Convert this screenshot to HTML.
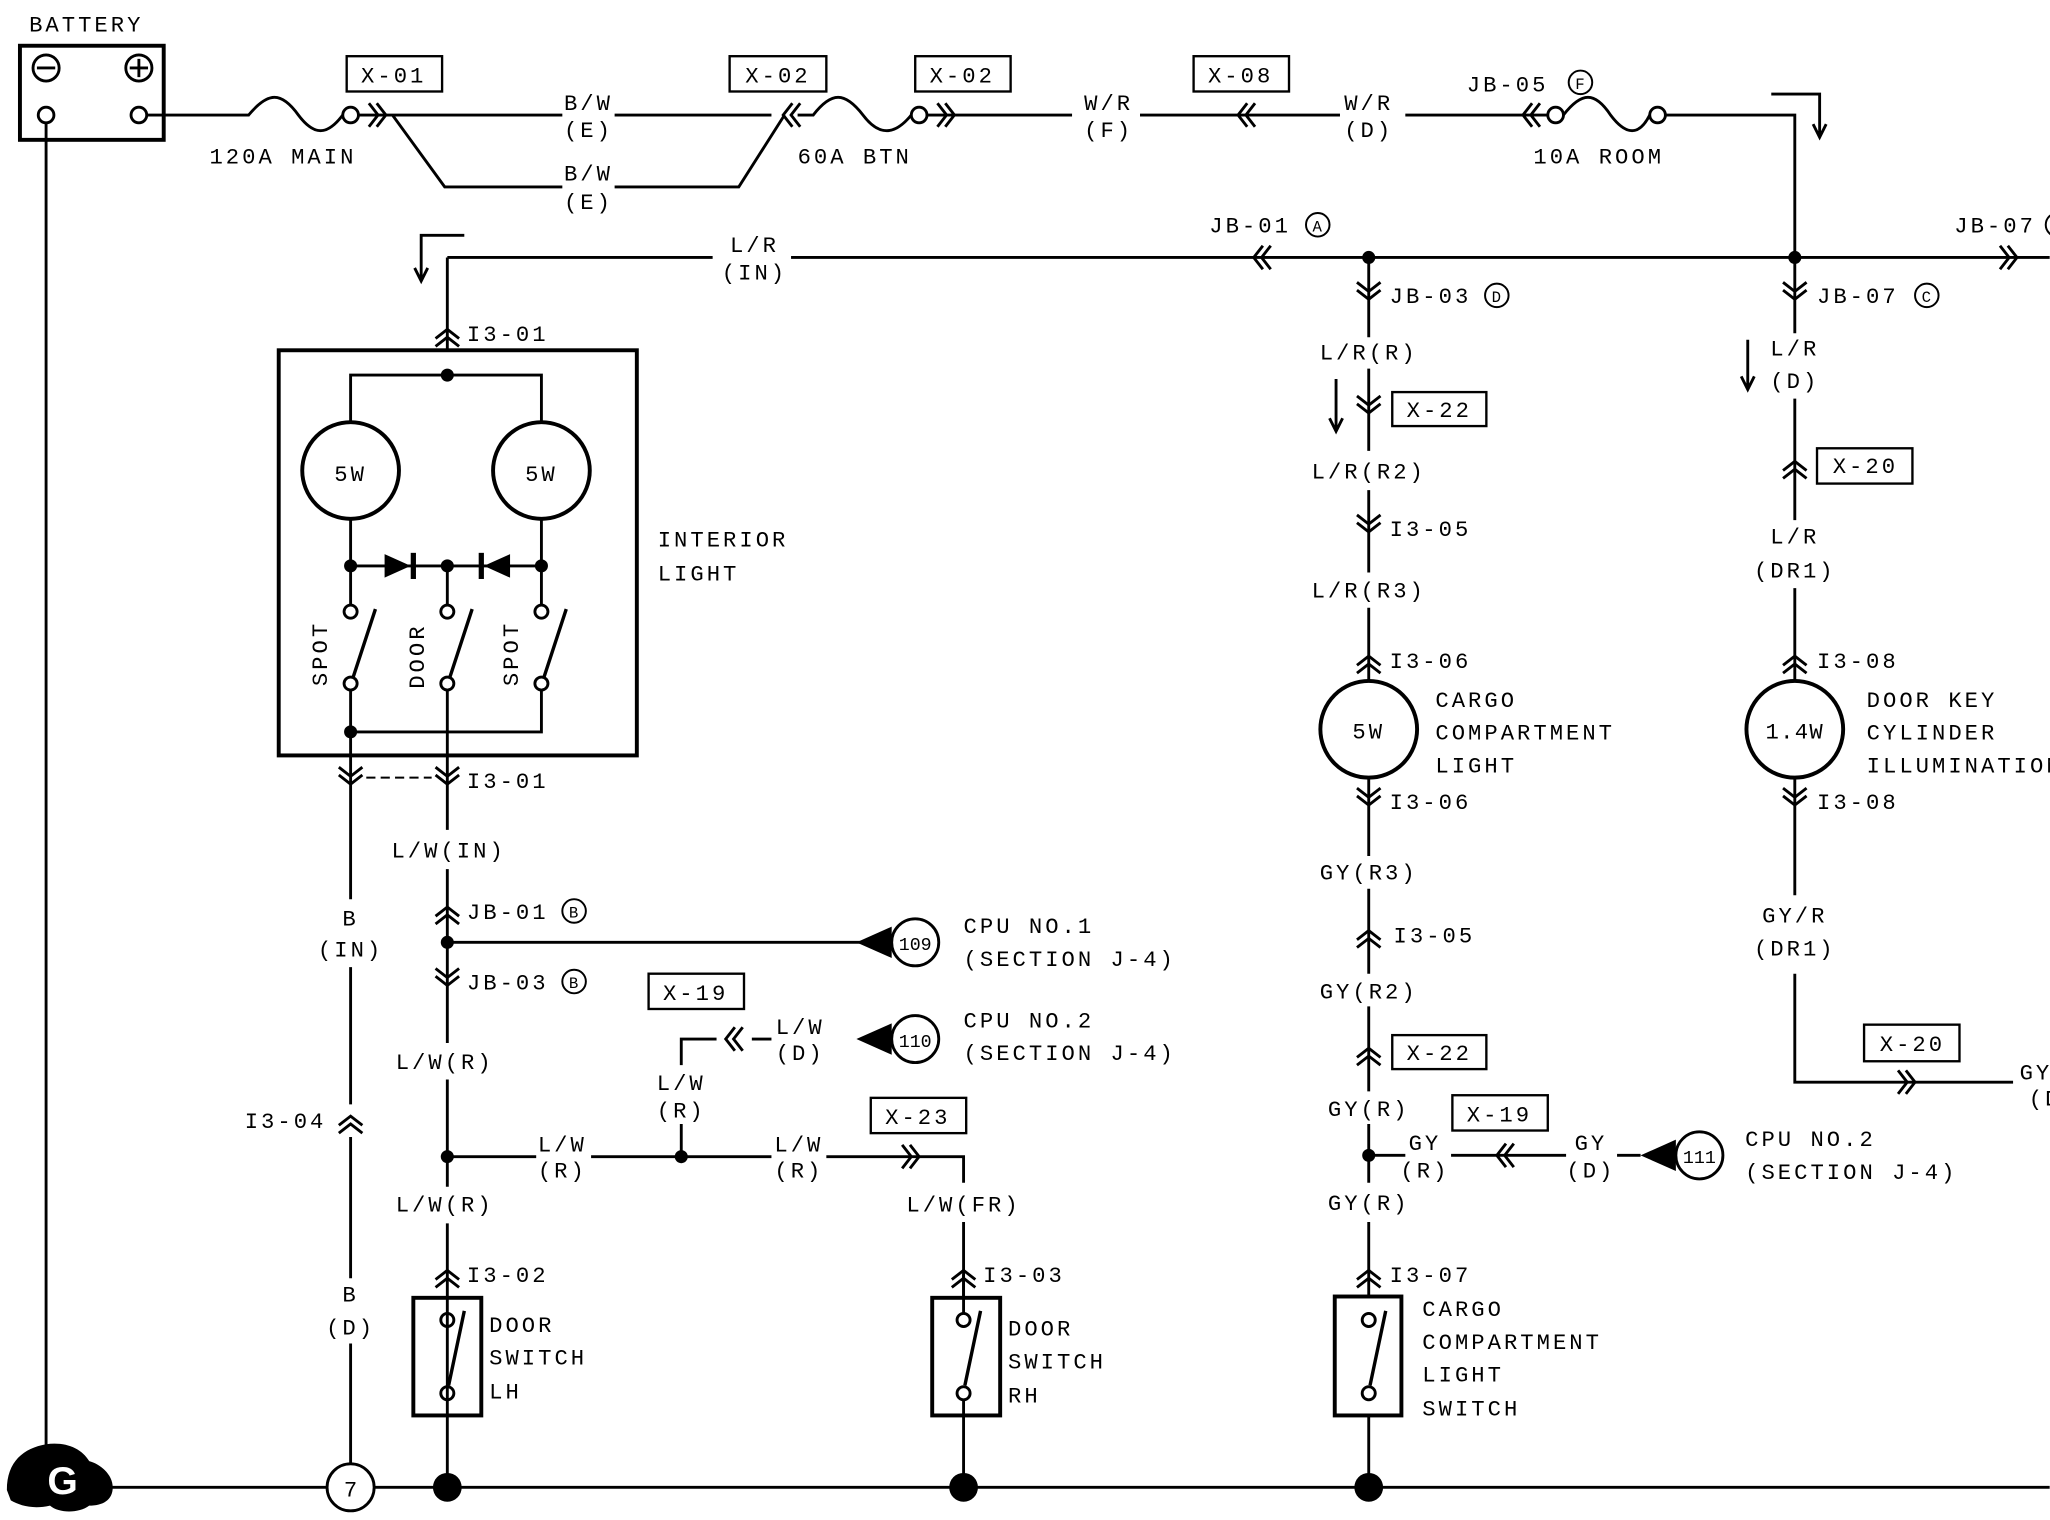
<!DOCTYPE html>
<html><head><meta charset="utf-8"><style>
html,body{margin:0;padding:0;background:#fff;}
svg{display:block;}
text{font-family:"Liberation Mono",monospace;font-size:17px;letter-spacing:2.3px;fill:#000;}
.m{text-anchor:middle;}
</style></head><body>
<svg width="2050" height="1520" viewBox="0 0 1568 1163" xmlns="http://www.w3.org/2000/svg">
<defs>
<path id="cd" d="M-9,-10 L0,-3 L9,-10 M-9,-4 L0,3 L9,-4" fill="none" stroke="#000" stroke-width="2.2"/>
<path id="cu" d="M-9,10 L0,3 L9,10 M-9,4 L0,-3 L9,4" fill="none" stroke="#000" stroke-width="2.2"/>
<path id="cl" d="M10,-9 L3,0 L10,9 M4,-9 L-3,0 L4,9" fill="none" stroke="#000" stroke-width="2.2"/>
<path id="cr" d="M-10,-9 L-3,0 L-10,9 M-4,-9 L3,0 L-4,9" fill="none" stroke="#000" stroke-width="2.2"/>
</defs>
<rect width="1568" height="1163" fill="#fff"/>
<g stroke="#000" stroke-width="2.2" fill="none">
<rect x="15" y="35" width="110" height="72" stroke-width="3"/>
<circle cx="35" cy="52" r="10"/><path d="M28,52 H42"/>
<circle cx="106" cy="52" r="10"/><path d="M99,52 H113 M106,45 V59"/>
<circle cx="35" cy="88" r="6"/><circle cx="106" cy="88" r="6"/>
<path d="M35,94 V1130"/>
<path d="M30,1138 H250 M286,1138 H1568"/>
<path d="M112,88 H190 C205,70 215,70 228,88 C240,104 250,104 262,88"/>
<circle cx="268" cy="88" r="6"/>
<path d="M274,88 H430 M470,88 H590"/>
<path d="M300,88 L340,143 H430 M470,143 H565 L600,88"/>
<path d="M610,88 H622 C636,70 646,70 660,88 C672,104 684,104 697,88"/>
<circle cx="703" cy="88" r="6"/>
<path d="M709,88 H820 M872,88 H1025 M1075,88 H1184"/>
<circle cx="1190" cy="88" r="6"/>
<path d="M1196,88 C1210,70 1220,70 1232,88 C1244,104 1254,104 1262,88"/>
<circle cx="1268" cy="88" r="6"/>
<path d="M1274,88 H1373 V197"/>
<path d="M1355,72 H1392 V103 M1387,95 L1392,105 L1397,95"/>
<path d="M342,197 H545 M605,197 H1568"/>
<path d="M355,180 H322 V213 M317,205 L322,215 L327,205"/>
<path d="M342,197 V268"/>
<rect x="213" y="268" width="274" height="310" stroke-width="3"/>
<path d="M268,323 V287 H414 V323"/>
<circle cx="268" cy="360" r="37" stroke-width="3"/>
<circle cx="414" cy="360" r="37" stroke-width="3"/>
<path d="M268,397 V463 M414,397 V463 M342,433 V463 M268,433 H414"/>
<circle cx="268" cy="468" r="5"/><circle cx="342" cy="468" r="5"/><circle cx="414" cy="468" r="5"/>
<circle cx="268" cy="523" r="5"/><circle cx="342" cy="523" r="5"/><circle cx="414" cy="523" r="5"/>
<path d="M270,518 L287,466 M344,518 L361,466 M416,518 L433,466" stroke-width="2.6"/>
<path d="M268,528 V688 M268,740 V845 M268,870 V978 M268,1028 V1120 M414,528 V560 H268 M342,528 V635 M342,665 V798 M342,826 V908 M342,936 V1138"/>
<path d="M280,595 H330" stroke-dasharray="7,4" stroke-width="1.5"/>
<path d="M342,721 H660 M342,885 H410 M452,885 H590 M632,885 H737 V905 M737,935 V993"/>
<path d="M521,885 V860 M521,815 V795 H548 M575,795 H590"/>
<rect x="316" y="993" width="52" height="90" stroke-width="3"/>
<rect x="713" y="993" width="52" height="90" stroke-width="3"/>
<circle cx="342" cy="1010" r="5"/><circle cx="342" cy="1066" r="5"/>
<circle cx="737" cy="1010" r="5"/><circle cx="737" cy="1066" r="5"/>
<path d="M355,1003 L343,1060 M750,1003 L738,1060" stroke-width="2.6"/>
<path d="M737,1071 V1138 M737,975 V1005"/>
<path d="M1047,197 V258 M1047,282 V345 M1047,375 V438 M1047,465 V521 M1047,595 V655 M1047,680 V745 M1047,770 V835 M1047,860 V905 M1047,935 V992 M1047,1083 V1138"/>
<circle cx="1047" cy="558" r="37" stroke-width="3"/>
<path d="M1047,884 H1075 M1110,884 H1198 M1237,884 H1255"/>
<rect x="1021" y="992" width="51" height="91" stroke-width="3"/>
<circle cx="1047" cy="1010" r="5"/><circle cx="1047" cy="1066" r="5"/>
<path d="M1060,1003 L1048,1060" stroke-width="2.6"/>
<path d="M1022,290 V328 M1017,320 L1022,330 L1027,320"/>
<path d="M1373,197 V255 M1373,305 V398 M1373,450 V521 M1373,595 V685 M1373,745 V828 H1540"/>
<circle cx="1373" cy="558" r="37" stroke-width="3"/>
<path d="M1337,260 V296 M1332,288 L1337,298 L1342,288"/>
<rect x="265" y="43" width="73" height="27" stroke-width="1.8"/>
<rect x="558" y="43" width="74" height="27" stroke-width="1.8"/>
<rect x="700" y="43" width="73" height="27" stroke-width="1.8"/>
<rect x="913" y="43" width="73" height="27" stroke-width="1.8"/>
<rect x="1065" y="300" width="72" height="26" stroke-width="1.8"/>
<rect x="1390" y="343" width="73" height="27" stroke-width="1.8"/>
<rect x="496" y="745" width="73" height="27" stroke-width="1.8"/>
<rect x="666" y="840" width="73" height="27" stroke-width="1.8"/>
<rect x="1065" y="792" width="72" height="26" stroke-width="1.8"/>
<rect x="1111" y="838" width="73" height="27" stroke-width="1.8"/>
<rect x="1426" y="784" width="73" height="28" stroke-width="1.8"/>
<circle cx="700" cy="721" r="18"/><circle cx="700" cy="795" r="18"/><circle cx="1300" cy="884" r="18"/>
<circle cx="268" cy="1138" r="18"/>
<circle cx="1209" cy="63" r="9" stroke-width="1.5"/>
<circle cx="1008" cy="172" r="9" stroke-width="1.5"/>
<circle cx="1145" cy="226" r="9" stroke-width="1.5"/>
<circle cx="1474" cy="226" r="9" stroke-width="1.5"/>
<circle cx="1574" cy="172" r="9" stroke-width="1.5"/>
<circle cx="439" cy="697" r="9" stroke-width="1.5"/>
<circle cx="439" cy="751" r="9" stroke-width="1.5"/>
</g>
<g fill="#000">
<circle cx="342" cy="287" r="5"/><circle cx="268" cy="433" r="5"/><circle cx="342" cy="433" r="5"/><circle cx="414" cy="433" r="5"/>
<circle cx="268" cy="560" r="5"/>
<path d="M294,424 L294,442 L314,433 Z"/><rect x="314" y="423" width="4" height="20"/>
<path d="M390,424 L390,442 L370,433 Z"/><rect x="366" y="423" width="4" height="20"/>
<circle cx="1047" cy="197" r="5"/><circle cx="1373" cy="197" r="5"/>
<circle cx="342" cy="721" r="5"/><circle cx="342" cy="885" r="5"/><circle cx="521" cy="885" r="5"/><circle cx="1047" cy="884" r="5"/>
<circle cx="342" cy="1138" r="11"/><circle cx="737" cy="1138" r="11"/><circle cx="1047" cy="1138" r="11"/>
<path d="M655,721 L682,709 L682,733 Z"/>
<path d="M655,795 L682,783 L682,807 Z"/>
<path d="M1255,884 L1282,872 L1282,896 Z"/>
<path d="M5,1140 C5,1118 18,1108 35,1105 C50,1103 62,1108 68,1118 C76,1120 86,1128 86,1138 C86,1148 78,1152 68,1152 C60,1158 45,1158 38,1152 C25,1155 15,1152 8,1148 Z"/>
</g>
<text x="36" y="1143" style="fill:#fff;font-family:'Liberation Sans',sans-serif;font-weight:bold;font-size:30px;letter-spacing:0">G</text>
<use href="#cr" x="292" y="88"/><use href="#cl" x="602" y="88"/><use href="#cr" x="727" y="88"/>
<use href="#cl" x="950" y="88"/><use href="#cl" x="1168" y="88"/>
<use href="#cl" x="962" y="197"/><use href="#cr" x="1540" y="197"/>
<use href="#cu" x="342" y="255"/>
<use href="#cd" x="268" y="597"/><use href="#cd" x="342" y="597"/>
<use href="#cu" x="342" y="697"/><use href="#cd" x="342" y="751"/>
<use href="#cu" x="268" y="857"/>
<use href="#cu" x="342" y="975"/><use href="#cu" x="737" y="975"/>
<use href="#cl" x="558" y="795"/><use href="#cr" x="700" y="885"/>
<use href="#cd" x="1047" y="226"/><use href="#cd" x="1047" y="313"/><use href="#cd" x="1047" y="404"/>
<use href="#cu" x="1047" y="505"/><use href="#cd" x="1047" y="613"/><use href="#cu" x="1047" y="715"/>
<use href="#cu" x="1047" y="805"/><use href="#cu" x="1047" y="975"/><use href="#cl" x="1148" y="884"/>
<use href="#cd" x="1373" y="226"/><use href="#cu" x="1373" y="356"/><use href="#cu" x="1373" y="505"/>
<use href="#cd" x="1373" y="613"/><use href="#cr" x="1462" y="828"/>
<text x="22" y="24">BATTERY</text>
<text x="160" y="125">120A  MAIN</text>
<text x="301" y="63" class="m">X-01</text>
<text x="595" y="63" class="m">X-02</text>
<text x="736" y="63" class="m">X-02</text>
<text x="949" y="63" class="m">X-08</text>
<text x="450" y="84" class="m">B/W</text><text x="450" y="105" class="m">(E)</text>
<text x="450" y="138" class="m">B/W</text><text x="450" y="160" class="m">(E)</text>
<text x="610" y="125">60A  BTN</text>
<text x="848" y="84" class="m">W/R</text><text x="848" y="105" class="m">(F)</text>
<text x="1047" y="84" class="m">W/R</text><text x="1047" y="105" class="m">(D)</text>
<text x="1122" y="70">JB-05</text><text x="1205" y="68" style="font-size:12px;letter-spacing:0">F</text>
<text x="1173" y="125">10A  ROOM</text>
<text x="577" y="193" class="m">L/R</text><text x="577" y="214" class="m">(IN)</text>
<text x="925" y="178">JB-01</text><text x="1004" y="177" style="font-size:12px;letter-spacing:0">A</text>
<text x="1495" y="178">JB-07</text>
<text x="357" y="261">I3-01</text>
<text x="268" y="368" class="m">5W</text><text x="414" y="368" class="m">5W</text>
<text x="503" y="418">INTERIOR</text><text x="503" y="444">LIGHT</text>
<text transform="translate(250,525) rotate(-90)">SPOT</text>
<text transform="translate(324,527) rotate(-90)">DOOR</text>
<text transform="translate(396,525) rotate(-90)">SPOT</text>
<text x="357" y="603">I3-01</text>
<text x="343" y="656" class="m">L/W(IN)</text>
<text x="357" y="703">JB-01</text><text x="435" y="702" style="font-size:12px;letter-spacing:0">B</text>
<text x="357" y="757">JB-03</text><text x="435" y="756" style="font-size:12px;letter-spacing:0">B</text>
<text x="268" y="708" class="m">B</text><text x="268" y="732" class="m">(IN)</text>
<text x="700" y="727" class="m" style="font-size:14px;letter-spacing:0">109</text>
<text x="700" y="801" class="m" style="font-size:14px;letter-spacing:0">110</text>
<text x="1300" y="890" class="m" style="font-size:14px;letter-spacing:0">111</text>
<text x="268" y="1145" class="m" style="letter-spacing:0">7</text>
<text x="737" y="714">CPU NO.1</text><text x="737" y="739">(SECTION J-4)</text>
<text x="737" y="786">CPU NO.2</text><text x="737" y="811">(SECTION J-4)</text>
<text x="532" y="765" class="m">X-19</text>
<text x="612" y="791" class="m">L/W</text><text x="612" y="811" class="m">(D)</text>
<text x="521" y="834" class="m">L/W</text><text x="521" y="855" class="m">(R)</text>
<text x="340" y="818" class="m">L/W(R)</text>
<text x="187" y="863">I3-04</text>
<text x="430" y="881" class="m">L/W</text><text x="430" y="901" class="m">(R)</text>
<text x="611" y="881" class="m">L/W</text><text x="611" y="901" class="m">(R)</text>
<text x="702" y="860" class="m">X-23</text>
<text x="340" y="927" class="m">L/W(R)</text>
<text x="737" y="927" class="m">L/W(FR)</text>
<text x="357" y="981">I3-02</text><text x="752" y="981">I3-03</text>
<text x="268" y="996" class="m">B</text><text x="268" y="1021" class="m">(D)</text>
<text x="374" y="1019">DOOR</text><text x="374" y="1044">SWITCH</text><text x="374" y="1070">LH</text>
<text x="771" y="1022">DOOR</text><text x="771" y="1047">SWITCH</text><text x="771" y="1073">RH</text>
<text x="1063" y="232">JB-03</text><text x="1141" y="231" style="font-size:12px;letter-spacing:0">D</text>
<text x="1047" y="275" class="m">L/R(R)</text>
<text x="1101" y="319" class="m">X-22</text>
<text x="1047" y="366" class="m">L/R(R2)</text>
<text x="1063" y="410">I3-05</text>
<text x="1047" y="457" class="m">L/R(R3)</text>
<text x="1063" y="511">I3-06</text>
<text x="1047" y="565" class="m">5W</text>
<text x="1098" y="541">CARGO</text><text x="1098" y="566">COMPARTMENT</text><text x="1098" y="591">LIGHT</text>
<text x="1063" y="619">I3-06</text>
<text x="1047" y="673" class="m">GY(R3)</text>
<text x="1066" y="721">I3-05</text>
<text x="1047" y="764" class="m">GY(R2)</text>
<text x="1101" y="811" class="m">X-22</text>
<text x="1047" y="854" class="m">GY(R)</text>
<text x="1147" y="858" class="m">X-19</text>
<text x="1090" y="880" class="m">GY</text><text x="1090" y="901" class="m">(R)</text>
<text x="1217" y="880" class="m">GY</text><text x="1217" y="901" class="m">(D)</text>
<text x="1335" y="877">CPU NO.2</text><text x="1335" y="902">(SECTION J-4)</text>
<text x="1047" y="926" class="m">GY(R)</text>
<text x="1063" y="981">I3-07</text>
<text x="1088" y="1007">CARGO</text><text x="1088" y="1032">COMPARTMENT</text><text x="1088" y="1057">LIGHT</text><text x="1088" y="1083">SWITCH</text>
<text x="1390" y="232">JB-07</text><text x="1470" y="231" style="font-size:12px;letter-spacing:0">C</text>
<text x="1373" y="272" class="m">L/R</text><text x="1373" y="297" class="m">(D)</text>
<text x="1427" y="362" class="m">X-20</text>
<text x="1373" y="416" class="m">L/R</text><text x="1373" y="442" class="m">(DR1)</text>
<text x="1390" y="511">I3-08</text>
<text x="1373" y="565" class="m" style="letter-spacing:1px">1.4W</text>
<text x="1428" y="541">DOOR KEY</text><text x="1428" y="566">CYLINDER</text><text x="1428" y="591">ILLUMINATION</text>
<text x="1390" y="619">I3-08</text>
<text x="1373" y="706" class="m">GY/R</text><text x="1373" y="731" class="m">(DR1)</text>
<text x="1463" y="804" class="m">X-20</text>
<text x="1545" y="826">GY</text><text x="1552" y="846">(D</text>
</svg>
</body></html>
